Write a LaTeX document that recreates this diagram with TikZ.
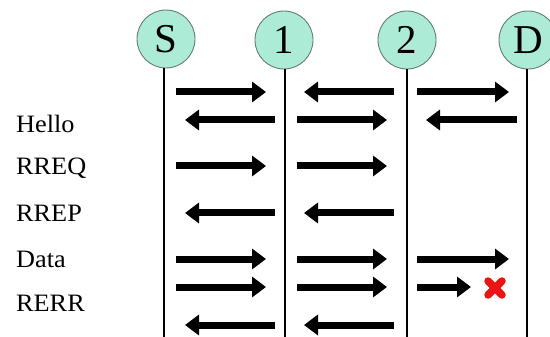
\documentclass[tikz,border=0pt]{standalone}
\usepackage{fontspec}
\setmainfont{Liberation Serif}
\usetikzlibrary{arrows.meta}
\definecolor{mint}{RGB}{172,236,214}
\definecolor{ring}{RGB}{100,125,112}
\definecolor{xred}{RGB}{235,20,20}
\tikzset{
  peer/.style={circle,draw=ring,line width=0.9pt,fill=mint,minimum size=58pt,inner sep=0pt,font=\fontsize{41}{41}\selectfont},
  life/.style={line width=1.2pt,black},
  msg/.style={line width=7pt,-{Triangle[length=14pt,width=20pt]},shorten >=-1pt},
  lbl/.style={anchor=west,inner sep=0pt,font=\fontsize{25}{25}\selectfont}
}
\newcommand{\wide}[1]{\scalebox{1.05}[1]{#1}}
\begin{document}
\begin{tikzpicture}[x=1pt,y=-1pt]
\useasboundingbox (0,0) rectangle (550,337);
\node[peer] (S) at (166,39) {S};
\node[peer] (n1) at (284,40) {1};
\node[peer] (n2) at (407,40) {2};
\node[peer] (D) at (528,40) {D};
\coordinate (Sb) at (164,340);
\coordinate (n1b) at (285,340);
\coordinate (n2b) at (407,340);
\coordinate (Db) at (527,340);
\draw[life] (S.south -| Sb) -- (Sb);
\draw[life] (n1.south -| n1b) -- (n1b);
\draw[life] (n2.south -| n2b) -- (n2b);
\draw[life] (D.south -| Db) -- (Db);
% labels
\node[lbl] (lh) at (16,124) {\wide{Hello}};
\node[lbl] (lq) at (16,168) {\wide{RREQ}};
\node[lbl] (lp) at (16,213) {\wide{RREP}};
\node[lbl] (ld) at (16,259) {\wide{Data}};
\node[lbl] (le) at (16,303) {\wide{RERR}};
% Hello
\draw[msg] (176,92) -- (265,92);
\draw[msg] (394,92) -- (305,92);
\draw[msg] (417,92) -- (508,92);
\draw[msg] (275,120) -- (186,120);
\draw[msg] (297,120) -- (386,120);
\draw[msg] (517,120) -- (427,120);
% RREQ
\draw[msg] (176,166) -- (265,166);
\draw[msg] (297,166) -- (386,166);
% RREP
\draw[msg] (275,213) -- (186,213);
\draw[msg] (394,213) -- (305,213);
% Data
\draw[msg] (176,259) -- (265,259);
\draw[msg] (297,259) -- (386,259);
\draw[msg] (417,259) -- (508,259);
\draw[msg] (176,287) -- (265,287);
\draw[msg] (297,287) -- (386,287);
\draw[msg] (417,287) -- (470,287);
% RERR
\draw[msg] (275,325) -- (186,325);
\draw[msg] (394,325) -- (305,325);
% broken link mark
\coordinate (X) at (495,288);
\draw[xred,line width=7.5pt,line cap=round] ([shift={(-7,-7)}]X) -- ([shift={(7,7)}]X);
\draw[xred,line width=7.5pt,line cap=round] ([shift={(-7,7)}]X) -- ([shift={(7,-7)}]X);
\end{tikzpicture}
\end{document}
